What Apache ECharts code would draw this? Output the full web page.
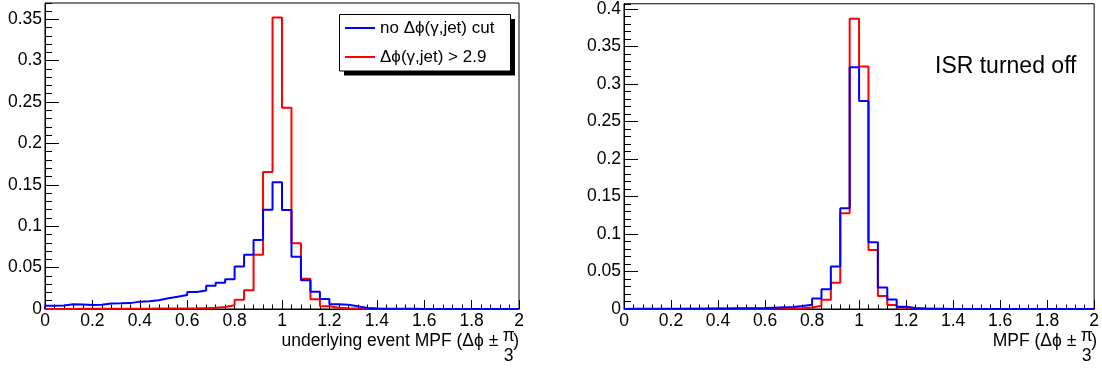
<!DOCTYPE html>
<html><head><meta charset="utf-8">
<script src="https://cdn.jsdelivr.net/npm/echarts@6/dist/echarts.min.js"></script>
<style>html,body{margin:0;padding:0;background:#fff}#c{width:1102px;height:368px}</style>
</head><body><div id="c"></div><script>
// bin low edges of 50 bins of width 0.04 over [0, 2]
const binEdges = Array.from({length: 51}, (_, i) => Math.round(i * 4) / 100);

// left panel: underlying event MPF
const leftCut = [
  0.0001,0.0001,0.0001,0.0002,0.0002,0.0002,0.0003,0.0003,0.0003,0.0004,
  0.0004,0.0005,0.0005,0.0006,0.0007,0.0008,0.0010,0.0014,0.0024,0.0046,
  0.0112,0.0226,0.0656,0.1655,0.3522,0.2430,0.0794,0.0365,0.0118,0.0034,
  0.0016,0.0010,0.0006,0.0003,0.0002,0.0001,0.0001,0.0001,0,0,
  0,0,0,0,0,0,0,0,0,0];
const leftNoCut = [
  0.0040,0.0041,0.0056,0.0055,0.0048,0.0050,0.0067,0.0068,0.0071,0.0089,
  0.0093,0.0106,0.0129,0.0149,0.0168,0.0206,0.0223,0.0282,0.0318,0.0358,
  0.0513,0.0656,0.0834,0.1200,0.1532,0.1196,0.0630,0.0348,0.0207,0.0121,
  0.0056,0.0050,0.0034,0.0012,0.0006,0.0004,0.0003,0.0002,0.0002,0.0001,
  0.0001,0.0001,0.0001,0.0001,0,0,0,0,0,0];

// right panel: MPF, ISR turned off
const rightCut = [
  0.0001,0.0001,0.0001,0.0001,0.0001,0.0001,0.0002,0.0002,0.0002,0.0002,
  0.0003,0.0003,0.0003,0.0004,0.0004,0.0005,0.0006,0.0008,0.0011,0.0020,
  0.0044,0.0122,0.0350,0.1278,0.3870,0.3232,0.0788,0.0173,0.0052,0.0020,
  0.0008,0.0004,0.0002,0.0001,0.0001,0,0,0,0,0,
  0,0,0,0,0,0,0,0,0,0];
const rightNoCut = [
  0.0003,0.0003,0.0003,0.0003,0.0004,0.0004,0.0005,0.0005,0.0006,0.0007,
  0.0008,0.0009,0.0010,0.0010,0.0013,0.0018,0.0022,0.0026,0.0040,0.0057,
  0.0141,0.0262,0.0568,0.1345,0.3225,0.2772,0.0891,0.0288,0.0128,0.0031,
  0.0013,0.0006,0.0003,0.0002,0.0001,0.0001,0,0,0,0,
  0,0,0,0,0,0,0,0,0,0];

const nameNoCut = 'no \u0394\u03d5(\u03b3,jet) cut';
const nameCut = '\u0394\u03d5(\u03b3,jet) > 2.9';
const leftYMax = 0.3696, rightYMax = 0.407;

const FONT = "'Liberation Sans', Arial, Helvetica, sans-serif";
const fmt = v => String(Math.round(v * 100) / 100);

function steps(vals) {
  const pts = [[binEdges[0], 0]];
  vals.forEach((v, i) => pts.push([binEdges[i], v]));
  pts.push([binEdges[50], 0]);
  return pts;
}

function xAx(g) {
  return {
    gridIndex: g, type: 'value', min: 0, max: 2, interval: 0.2,
    axisLine: {show: true, onZero: false, lineStyle: {color: '#000', width: 1}},
    axisTick: {show: true, inside: true, length: 9, lineStyle: {color: '#000', width: 1}},
    minorTick: {show: true, splitNumber: 5, length: 4.5, lineStyle: {color: '#000', width: 1}},
    splitLine: {show: false},
    axisLabel: {margin: 3, fontSize: 17.5, color: '#000', fontFamily: FONT, formatter: fmt}
  };
}
function yMajor(g, max) {
  return {
    gridIndex: g, type: 'value', min: 0, max: max, interval: 0.05,
    axisLine: {show: true, lineStyle: {color: '#000', width: 1}},
    axisTick: {show: true, inside: true, length: 14, lineStyle: {color: '#000', width: 1}},
    splitLine: {show: false},
    axisLabel: {margin: 3, fontSize: 17.5, color: '#000', fontFamily: FONT, formatter: fmt, showMaxLabel: false}
  };
}
function yMinor(g, max) {
  return {
    gridIndex: g, type: 'value', min: 0, max: max, interval: 0.01, position: 'left',
    axisLine: {show: false},
    axisTick: {show: true, inside: true, length: 7, lineStyle: {color: '#000', width: 1}},
    splitLine: {show: false},
    axisLabel: {show: false}
  };
}
function hist(name, vals, color, xi, yi) {
  return {
    name: name, type: 'line', step: 'end', data: steps(vals),
    xAxisIndex: xi, yAxisIndex: yi, showSymbol: false, symbol: 'none',
    clip: false, lineStyle: {color: color, width: 2}, itemStyle: {color: color},
    emphasis: {disabled: true}
  };
}
function axisTitle(endX, mainText) {
  return [
    {type: 'text', z: 5, style: {x: endX - 20.7, y: 341, text: mainText, fill: '#000', font: '17.5px ' + FONT, align: 'right', verticalAlign: 'middle'}},
    {type: 'text', z: 5, style: {x: endX - 10.3, y: 336.6, text: '\u03c0', fill: '#000', font: '17.5px ' + FONT, align: 'center', verticalAlign: 'middle'}},
    {type: 'text', z: 5, style: {x: endX - 10.3, y: 356.3, text: '3', fill: '#000', font: '17.5px ' + FONT, align: 'center', verticalAlign: 'middle'}},
    {type: 'text', z: 5, style: {x: endX, y: 341, text: ')', fill: '#000', font: '17.5px ' + FONT, align: 'right', verticalAlign: 'middle'}}
  ];
}

const chart = echarts.init(document.getElementById('c'), null, {renderer: 'canvas'});
chart.setOption({
  animation: false,
  backgroundColor: '#fff',
  grid: [
    {left: 45, right: 583, top: 3, bottom: 59, show: true, borderColor: '#000', borderWidth: 1, backgroundColor: 'transparent'},
    {left: 624, right: 5, top: 3, bottom: 59, show: true, borderColor: '#000', borderWidth: 1, backgroundColor: 'transparent'}
  ],
  xAxis: [xAx(0), xAx(1)],
  yAxis: [yMajor(0, leftYMax), yMinor(0, leftYMax), yMajor(1, rightYMax), yMinor(1, rightYMax)],
  legend: {
    data: [nameNoCut, nameCut], orient: 'vertical', left: 345, top: 19.5, padding: 0,
    itemWidth: 30, itemHeight: 2, itemGap: 12, icon: 'rect', selectedMode: false, z: 10,
    textStyle: {fontSize: 17, color: '#000', fontFamily: FONT}
  },
  graphic: [
    {type: 'rect', z: 8, shape: {x: 344, y: 19, width: 171, height: 56.5}, style: {fill: '#000'}},
    {type: 'rect', z: 8, shape: {x: 339.5, y: 14.5, width: 171, height: 56.5}, style: {fill: '#fff', stroke: '#000', lineWidth: 1}},
    {type: 'text', z: 5, style: {x: 935, y: 66.8, text: 'ISR turned off', fill: '#000', font: '23px ' + FONT, align: 'left', verticalAlign: 'middle'}}
  ].concat(axisTitle(519, 'underlying event MPF (\u0394\u03d5 \u00b1'), axisTitle(1097, 'MPF (\u0394\u03d5 \u00b1')),
  series: [
    hist(nameCut, leftCut, '#ff0000', 0, 0),
    hist(nameNoCut, leftNoCut, '#0000ff', 0, 0),
    hist(nameCut, rightCut, '#ff0000', 1, 2),
    hist(nameNoCut, rightNoCut, '#0000ff', 1, 2)
  ]
});
</script></body></html>
